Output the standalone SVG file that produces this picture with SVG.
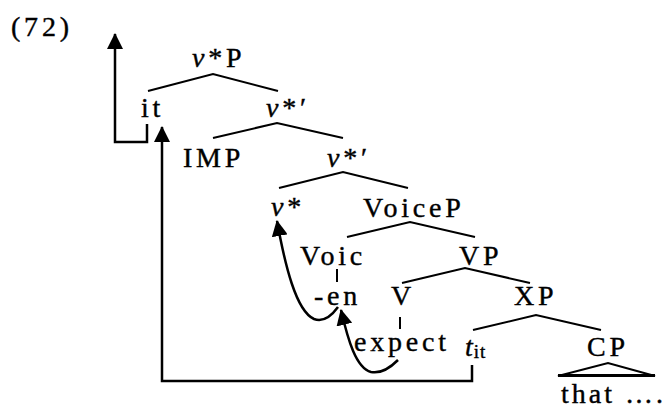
<svg xmlns="http://www.w3.org/2000/svg" width="669" height="410" viewBox="0 0 669 410">
<defs>
<style>
.br{stroke:#000;stroke-width:2;fill:none}
.mv{stroke:#000;stroke-width:2.5;fill:none}
</style>
<marker id="ah" viewBox="0 0 16 16" refX="15" refY="8" markerWidth="16" markerHeight="16" markerUnits="userSpaceOnUse" orient="auto">
<path d="M0,0 L16,8 L0,16 z" fill="#000"/>
</marker>
</defs>
<rect width="669" height="410" fill="#fff"/>
<g font-family="'Liberation Serif', 'Times New Roman', serif" font-size="28" fill="#000" stroke="#000" stroke-width="0.4" letter-spacing="3.8">
<text x="11" y="36">(72)</text>
<g id="n-vstarP"><text x="192" y="67"><tspan font-style="italic">v</tspan>*P</text></g>
<g id="n-it"><text x="141" y="117">it</text></g>
<g id="n-vstarbar1"><text x="266" y="117"><tspan font-style="italic">v</tspan>*′</text></g>
<g id="n-IMP"><text x="183" y="167">IMP</text></g>
<g id="n-vstarbar2"><text x="327" y="167"><tspan font-style="italic">v</tspan>*′</text></g>
<g id="n-vstar"><text x="271" y="216"><tspan font-style="italic">v</tspan>*</text></g>
<g id="n-VoiceP"><text x="363" y="217">VoiceP</text></g>
<g id="n-Voic"><text x="300" y="265">Voic</text></g>
<g id="n-VP"><text x="459" y="265">VP</text></g>
<g id="n-en"><text x="314" y="305">-en</text></g>
<g id="n-V"><text x="391" y="305">V</text></g>
<g id="n-XP"><text x="514" y="305">XP</text></g>
<g id="n-expect"><text x="354" y="351">expect</text></g>
<g id="n-tit"><text x="465" y="356"><tspan font-style="italic" letter-spacing="1">t</tspan><tspan font-size="19" letter-spacing="1" dy="2">it</tspan></text></g>
<g id="n-CP"><text x="587" y="356">CP</text></g>
<g id="n-that"><text x="561" y="403" letter-spacing="3">that ….</text></g>
</g>
<g id="branches">
<path class="br" d="M148,91 L213,74 L278,91"/>
<path class="br" d="M213,138 L277,123 L343,138"/>
<path class="br" d="M279,188 L343,172 L408,188"/>
<path class="br" d="M347,237 L410,222 L475,237"/>
<path class="br" d="M402,283 L465,268 L530,283"/>
<path class="br" d="M473,330 L536,315 L601,330"/>
<path class="br" d="M337,269 V282"/>
<path class="br" d="M400,317 V329"/>
<path class="br" d="M558,376 L608,363 L655,376 Z"/>
<path d="M558,375.5 H655" stroke="#000" stroke-width="3"/>
</g>
<g id="connectors">
<path class="mv" d="M147,124 V142 H115 V34" marker-end="url(#ah)"/>
<path class="mv" d="M472,365 V381 H162 V127" marker-end="url(#ah)"/>
<path class="mv" d="M338,307 C330,318 322,322 314,319 C296,311 285,265 277,221" marker-end="url(#ah)"/>
<path class="mv" d="M398,360 C390,368 381,374 371,372 C356,368 348,340 341,310" marker-end="url(#ah)"/>
</g>
</svg>
